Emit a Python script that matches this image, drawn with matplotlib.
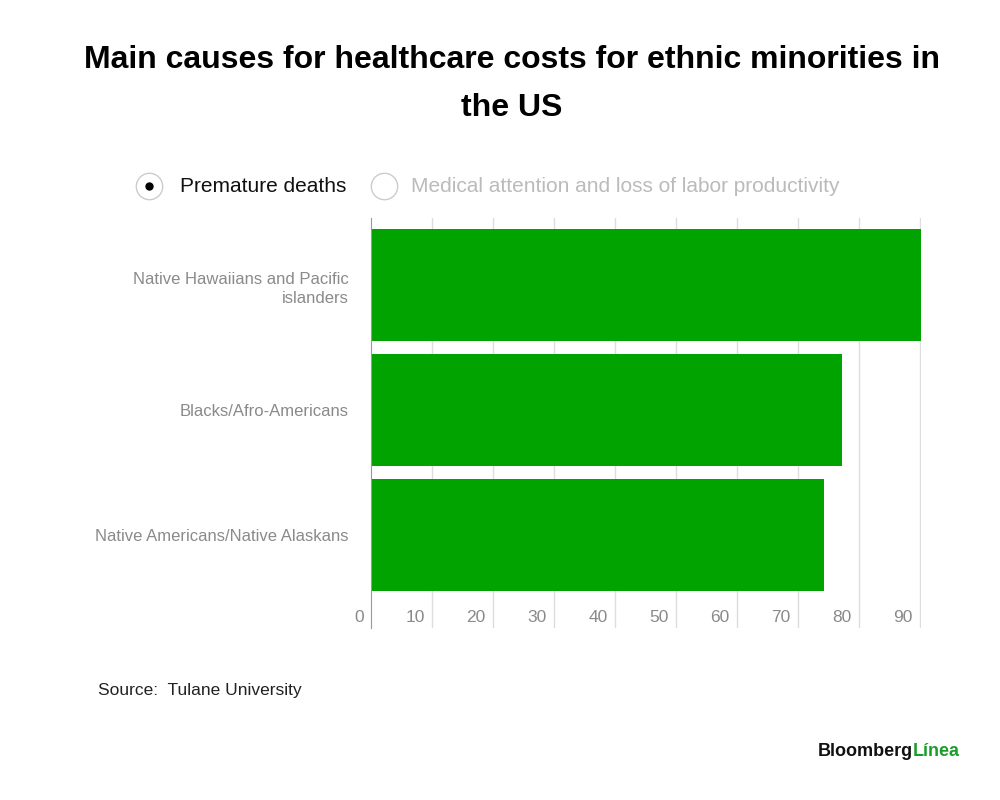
import matplotlib.pyplot as plt
from matplotlib.lines import Line2D

categories = ["Native Hawaiians and Pacific\nislanders", "Blacks/Afro-Americans", "Native Americans/Native Alaskans"]
values = [90.2, 77.3, 74.3]
ticks = [0, 10, 20, 30, 40, 50, 60, 70, 80, 90]

plt.rcParams['font.family'] = ['Liberation Sans', 'DejaVu Sans']
fig = plt.figure(figsize=(10, 8), dpi=100)
ax = fig.add_axes([0.371, 0.215, 0.55, 0.5125])
y = [2, 1, 0]
ax.barh(y, values, height=0.89, color='#00a300')
ax.set_xlim(0, 90.2)
ax.set_ylim(-0.744, 2.536)
ax.set_yticks(y)
ax.set_yticklabels(categories, fontsize=12, color='#8a8a8a', linespacing=1.4)
ax.tick_params(axis='y', length=0, pad=16)
ax.set_xticks([])
for t in ticks[1:]:
    ax.axvline(t, color='#dddddd', lw=1, zorder=0)
for t in ticks:
    ax.text(t - 1.2, -0.656, str(t), ha='right', va='center', fontsize=12.5, color='#8a8a8a')
for s in ['top', 'right', 'bottom']:
    ax.spines[s].set_visible(False)
ax.spines['left'].set_color('#999999')

fig.text(0.512, 0.915, "Main causes for healthcare costs for ethnic minorities in", ha='center', fontsize=23, fontweight='bold')
fig.text(0.512, 0.855, "the US", ha='center', fontsize=23, fontweight='bold')

fig.add_artist(Line2D([0.149], [0.767], marker='o', ms=19, mfc='white', mec='#cccccc', transform=fig.transFigure))
fig.add_artist(Line2D([0.149], [0.767], marker='o', ms=5, mfc='black', mec='black', transform=fig.transFigure))
fig.text(0.18, 0.767, "Premature deaths", va='center', fontsize=15, color='#111111')
fig.add_artist(Line2D([0.384], [0.767], marker='o', ms=19, mfc='white', mec='#cccccc', transform=fig.transFigure))
fig.text(0.411, 0.767, "Medical attention and loss of labor productivity", va='center', fontsize=15, color='#bbbbbb')

fig.text(0.098, 0.131, "Source:  Tulane University", fontsize=12.5, color='#222222')
fig.text(0.818, 0.055, "Bloomberg", fontsize=13, fontweight='bold', color='#111111')
fig.text(0.913, 0.055, "Línea", fontsize=13, fontweight='bold', color='#1a9e2a')
fig.savefig('out.png')
